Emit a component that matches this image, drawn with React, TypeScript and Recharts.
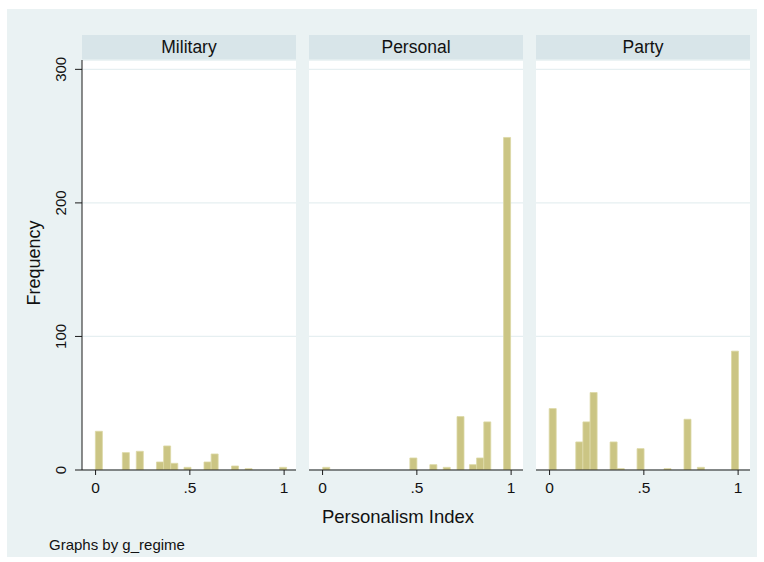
import React from 'react';
import { BarChart, Bar, XAxis, YAxis, CartesianGrid } from 'recharts';

const FONT = '"Liberation Sans", Arial, Helvetica, sans-serif';

// bar centre on the personalism index, and frequency, for each regime type
const militaryIndex = [0.018, 0.161, 0.235, 0.342, 0.38, 0.418, 0.488, 0.594, 0.632, 0.74, 0.812, 0.995];
const militaryFreq = [29, 13, 14, 6, 18, 5, 2, 6, 12, 3, 1, 2];

const personalIndex = [0.02, 0.482, 0.588, 0.659, 0.732, 0.798, 0.836, 0.874, 0.979];
const personalFreq = [2, 9, 4, 2, 40, 4, 9, 36, 249];

const partyIndex = [0.017, 0.158, 0.196, 0.234, 0.34, 0.378, 0.483, 0.626, 0.732, 0.803, 0.984];
const partyFreq = [46, 21, 36, 58, 21, 1, 16, 1, 38, 2, 89];

const regimes = ['Military', 'Personal', 'Party'];
const xTicks = [0, 0.5, 1];
const yTicks = [0, 100, 200, 300];

const toRows = (xs: number[], fs: number[]) => xs.map((x, i) => ({ x, freq: fs[i] }));

const panels = [
  toRows(militaryIndex, militaryFreq),
  toRows(personalIndex, personalFreq),
  toRows(partyIndex, partyFreq),
];

const PLOT_W = 214;
const PLOT_H = 410;
const PLOT_TOP = 60;
const PAD_TOP = 20; // room above the plot for the rotated "300" label
const PANEL_LEFT = [82, 309, 536];
const Y_AXIS_W = 60;
const X_AXIS_H = 30;

const fmtX = (v: number) => (v === 0 ? '0' : v === 1 ? '1' : String(v).replace(/^0/, ''));

const YTick = (props: any) => {
  const { x, y, payload } = props;
  return (
    <text
      x={x}
      y={y}
      transform={`rotate(-90 ${x} ${y})`}
      textAnchor="middle"
      fontSize={15}
      fontFamily={FONT}
      fill="#111"
    >
      {payload.value}
    </text>
  );
};

const Panel = ({ data, first, left }: { data: { x: number; freq: number }[]; first: boolean; left: number }) => {
  const yw = first ? Y_AXIS_W : 0;
  return (
    <div style={{ position: 'absolute', left: left - yw, top: PLOT_TOP - PAD_TOP }}>
      <BarChart
        width={PLOT_W + yw}
        height={PLOT_H + X_AXIS_H + PAD_TOP}
        data={data}
        margin={{ top: PAD_TOP, right: 0, bottom: 0, left: 0 }}
      >
        <CartesianGrid vertical={false} stroke="#e6eff1" strokeWidth={1.3} fill="#ffffff" />
        <XAxis
          type="number"
          dataKey="x"
          domain={[-0.072, 1.063]}
          ticks={xTicks}
          allowDataOverflow
          interval={0}
          tickFormatter={fmtX}
          height={X_AXIS_H}
          tickSize={5}
          tickMargin={7}
          stroke="#1a1a1a"
          tick={{ fill: '#111', fontSize: 15.5, fontFamily: FONT }}
        />
        <YAxis
          type="number"
          domain={[0, 307]}
          ticks={yTicks}
          allowDataOverflow
          interval={0}
          hide={!first}
          width={yw}
          tickSize={7}
          tickMargin={9}
          stroke="#1a1a1a"
          tick={<YTick />}
        />
        <Bar
          dataKey="freq"
          barSize={7}
          fill="#cbc584"
          stroke="#dcd8a4"
          strokeWidth={0.8}
          isAnimationActive={false}
        />
      </BarChart>
    </div>
  );
};

export default function App() {
  return (
    <div style={{ position: 'absolute', left: 0, top: 0, width: 764, height: 562, background: '#ffffff' }}>
      <div style={{ position: 'absolute', left: 7, top: 9, width: 750, height: 548, background: '#eaf2f3' }} />
      {regimes.map((r, i) => (
        <div
          key={r}
          style={{ position: 'absolute', left: PANEL_LEFT[i], top: 35, width: PLOT_W, height: 25, background: '#d8e5e9' }}
        />
      ))}
      {panels.map((d, i) => (
        <Panel key={regimes[i]} data={d} first={i === 0} left={PANEL_LEFT[i]} />
      ))}
      <svg
        width={764}
        height={562}
        style={{ position: 'absolute', left: 0, top: 0, pointerEvents: 'none' }}
        fontFamily={FONT}
      >
        {regimes.map((r, i) => (
          <text key={r} x={PANEL_LEFT[i] + PLOT_W / 2} y={53} textAnchor="middle" fontSize={17.5} fill="#111">
            {r}
          </text>
        ))}
        <text x={40} y={263} transform="rotate(-90 40 263)" textAnchor="middle" fontSize={18} fill="#111">
          Frequency
        </text>
        <text x={398} y={522.5} textAnchor="middle" fontSize={18.5} fill="#111">
          Personalism Index
        </text>
        <text x={49} y={550} fontSize={15} fill="#111">
          Graphs by g_regime
        </text>
      </svg>
    </div>
  );
}
